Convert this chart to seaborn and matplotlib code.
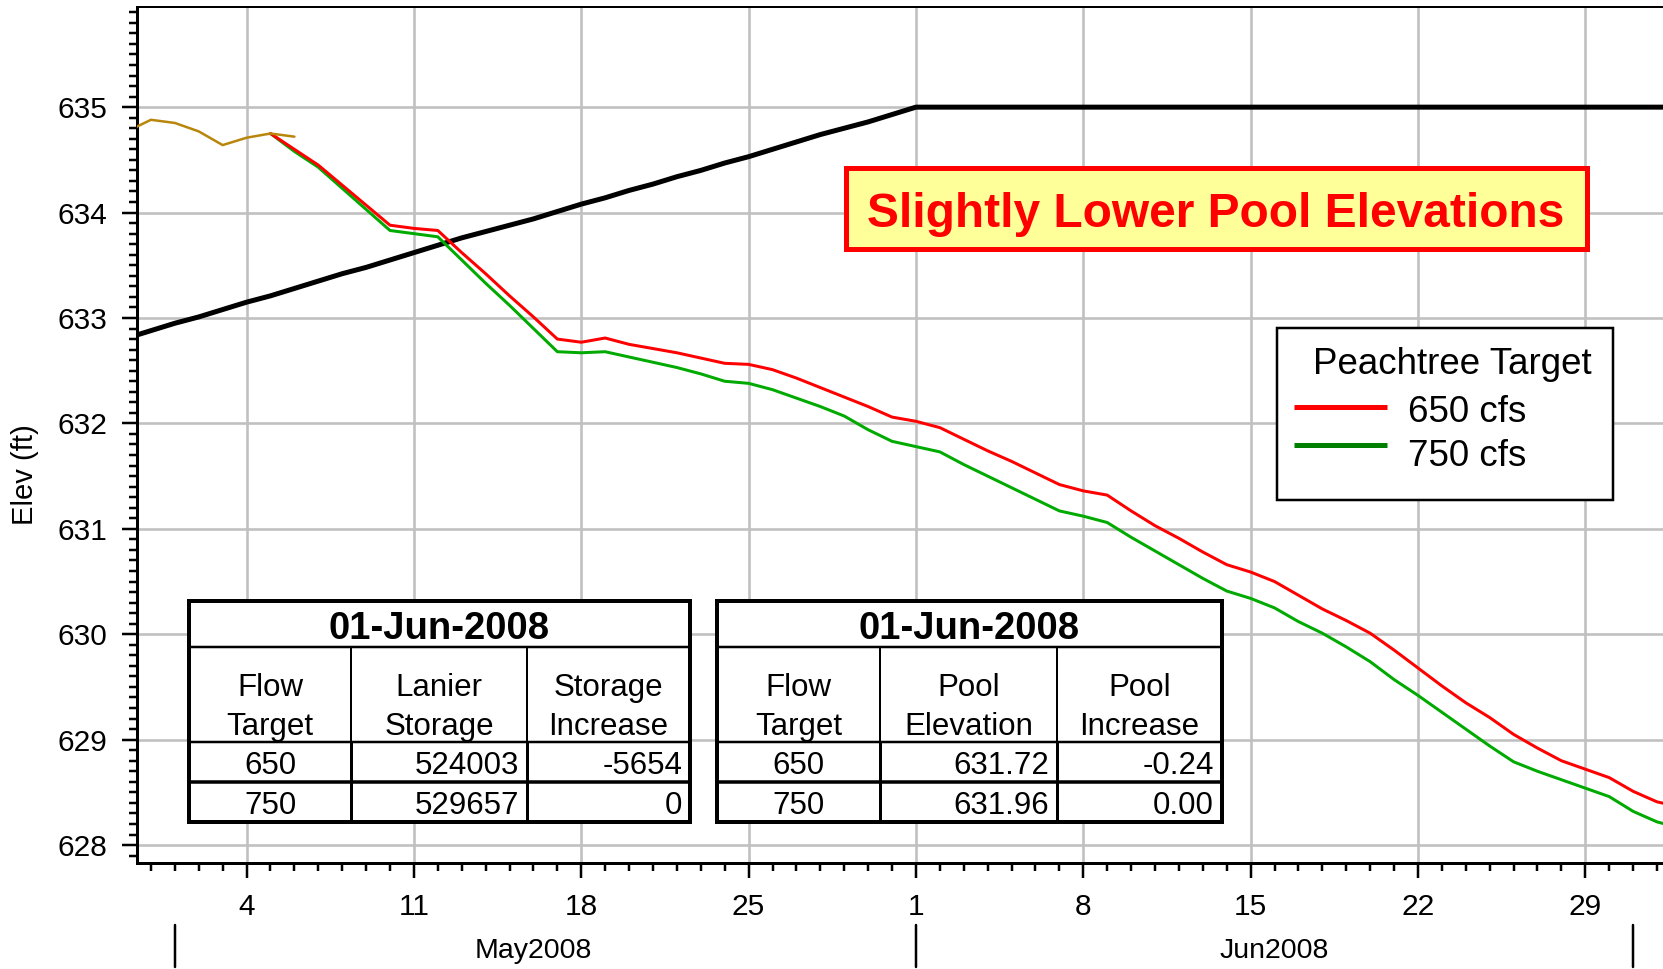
import numpy as np
import pandas as pd
import matplotlib
matplotlib.use('Agg')
import matplotlib.pyplot as plt
import matplotlib.dates as mdates
import matplotlib.transforms as mtransforms
from matplotlib.ticker import MultipleLocator, FuncFormatter
from matplotlib.patches import Rectangle
import seaborn as sns

sns.set_style('white')
plt.rcParams['font.family'] = ['Liberation Sans', 'DejaVu Sans']
plt.rcParams['text.color'] = 'black'
plt.rcParams['axes.labelcolor'] = 'black'
plt.rcParams['xtick.color'] = 'black'
plt.rcParams['ytick.color'] = 'black'

# ---------------------------------------------------------------- data
# guide curve (black), Apr 29 .. Jul 3
guide_dates = pd.date_range('2008-04-29', '2008-07-03', freq='D')
guide_rise = [632.81, 632.88, 632.95, 633.01, 633.08, 633.15, 633.21, 633.28,
              633.35, 633.42, 633.48, 633.55, 633.62, 633.69, 633.76, 633.82,
              633.88, 633.94, 634.01, 634.08, 634.14, 634.21, 634.27, 634.34,
              634.40, 634.47, 634.53, 634.60, 634.67, 634.74, 634.80, 634.86,
              634.93, 635.00]
guide_elev = guide_rise + [635.00] * (len(guide_dates) - len(guide_rise))

# observed pool (gold), Apr 29 .. May 6
obs_dates = pd.date_range('2008-04-29', '2008-05-06', freq='D')
obs_elev = [634.77, 634.88, 634.85, 634.77, 634.64, 634.71, 634.75, 634.72]

# simulated pool for two Peachtree targets, May 5 .. Jul 3
sim_dates = pd.date_range('2008-05-05', '2008-07-03', freq='D')
elev_650 = [634.75, 634.60, 634.45, 634.26, 634.07, 633.88, 633.85, 633.83,
            633.62, 633.42, 633.21, 633.01, 632.80, 632.77, 632.81, 632.75,
            632.71, 632.67, 632.62, 632.57, 632.56, 632.51, 632.43, 632.34,
            632.25, 632.16, 632.06,
            632.02, 631.96, 631.85, 631.74, 631.64, 631.53, 631.42, 631.36,
            631.32, 631.17, 631.03, 630.91, 630.78, 630.66, 630.59, 630.50,
            630.37, 630.24, 630.13, 630.01, 629.85, 629.68, 629.51, 629.35,
            629.21, 629.05, 628.92, 628.80, 628.72, 628.64,
            628.51, 628.41, 628.36]
elev_750 = [634.75, 634.58, 634.43, 634.23, 634.03, 633.83, 633.80, 633.77,
            633.55, 633.33, 633.12, 632.90, 632.68, 632.67, 632.68, 632.63,
            632.58, 632.53, 632.47, 632.40, 632.38, 632.32, 632.24, 632.16,
            632.07, 631.94, 631.83,
            631.78, 631.73, 631.61, 631.50, 631.39, 631.28, 631.17, 631.12,
            631.06, 630.92, 630.79, 630.66, 630.53, 630.41, 630.34, 630.25,
            630.12, 630.01, 629.88, 629.74, 629.57, 629.42, 629.26, 629.10,
            628.94, 628.79, 628.70, 628.62, 628.54, 628.46,
            628.32, 628.22, 628.16]

legend_title = 'Peachtree Target'
legend_labels = ['650 cfs', '750 cfs']
month_labels = ['May2008', 'Jun2008']
month_label_dates = pd.to_datetime(['2008-05-16', '2008-06-16'])
month_starts = pd.to_datetime(['2008-05-01', '2008-06-01', '2008-07-01'])

table_date = '01-Jun-2008'
flow_targets = ['650', '750']
storage_headers = ['Flow\nTarget', 'Lanier\nStorage', 'Storage\nIncrease']
lanier_storage = ['524003', '529657']
storage_increase = ['-5654', '0']
pool_headers = ['Flow\nTarget', 'Pool\nElevation', 'Pool\nIncrease']
pool_elevation = ['631.72', '631.96']
pool_increase = ['-0.24', '0.00']

banner = 'Slightly Lower Pool Elevations'

# ---------------------------------------------------------------- figure
W, H = 1663, 969
PT = 0.72  # points per pixel at dpi 100
fig = plt.figure(figsize=(W / 100, H / 100), dpi=100)
ax = fig.add_axes([137 / W, 1 - 863 / H, (W - 137) / W, 856 / H])

sns.lineplot(x=guide_dates, y=guide_elev, ax=ax, color='black', lw=5 * PT, zorder=3)
sns.lineplot(x=sim_dates, y=elev_750, ax=ax, color='#00AA00', lw=3 * PT, zorder=4)
sns.lineplot(x=sim_dates, y=elev_650, ax=ax, color='#FF0000', lw=3 * PT, zorder=5)
sns.lineplot(x=obs_dates, y=obs_elev, ax=ax, color='#B8860B', lw=2.5 * PT, zorder=6)

ax.set_xlim(pd.Timestamp('2008-04-29 10:00'), pd.Timestamp('2008-07-02 06:00'))
ax.set_ylim(627.83, 635.95)

ax.xaxis.set_major_locator(mdates.WeekdayLocator(byweekday=mdates.SU))
ax.xaxis.set_minor_locator(mdates.DayLocator())
ax.xaxis.set_major_formatter(FuncFormatter(lambda v, p: str(mdates.num2date(v).day)))
ax.yaxis.set_major_locator(MultipleLocator(1))
ax.yaxis.set_minor_locator(MultipleLocator(0.1))

ax.tick_params(which='both', direction='out', width=2.5 * PT, color='black',
               labelcolor='black', labelsize=21.5, pad=10.5, left=True, bottom=True)
ax.tick_params(which='major', length=15 * PT)
ax.tick_params(which='minor', length=8 * PT)

ax.grid(which='major', color='#C0C0C0', lw=2.6 * PT)
ax.set_axisbelow(True)
ax.spines['right'].set_visible(False)
ax.spines['left'].set_linewidth(3 * PT)
ax.spines['bottom'].set_linewidth(3 * PT)
ax.spines['top'].set_linewidth(2 * PT)
for s in ['left', 'bottom', 'top']:
    ax.spines[s].set_color('black')

ax.set_xlabel('')
ax.set_ylabel('Elev (ft)', fontsize=21, color='black')
ax.yaxis.set_label_coords(-0.064, 0.454)

# month band under the day ticks
trans = mtransforms.blended_transform_factory(ax.transData, ax.transAxes)
for d in month_starts:
    ax.axvline(d, ymin=-0.0724, ymax=-0.1215, color='black', lw=2.5 * PT, clip_on=False)
for d, lab in zip(month_label_dates, month_labels):
    ax.text(d, -0.1025, lab, transform=trans, ha='center', va='center', fontsize=20.5)

# ---------------------------------------------------------------- overlay (pixel coords)
ov = fig.add_axes([0, 0, 1, 1], zorder=10)
ov.set_xlim(0, W)
ov.set_ylim(H, 0)
ov.axis('off')

# banner
ov.add_patch(Rectangle((845.5, 167.5), 741, 81, facecolor='#FFFF99',
                       edgecolor='#FF0000', lw=5 * PT))
ov.text(1216, 214, banner, color='#FF0000', fontsize=34.5, fontweight='bold',
        ha='center', va='center')

# legend
ov.add_patch(Rectangle((1277, 328), 336, 172, facecolor='white', edgecolor='black', lw=2.5 * PT))
ov.text(1313, 365, legend_title, fontsize=26.5, ha='left', va='center')
for yy, ty, col, lab in zip([407, 445], [413, 456], ['#FF0000', '#008000'], legend_labels):
    ov.plot([1294, 1387], [yy, yy], color=col, lw=5 * PT, solid_capstyle='butt')
    ov.text(1408, ty, lab, fontsize=26.5, ha='left', va='center')


def draw_table(xs, headers, col2, col3):
    x0, x1, x2, x3 = xs
    yt, y_title, y_head, y_row, yb = 601, 647, 742, 782, 822
    ov.add_patch(Rectangle((x0, yt), x3 - x0, yb - yt, facecolor='white',
                           edgecolor='black', lw=4 * PT))
    ov.plot([x0, x3], [y_title, y_title], color='black', lw=2.5 * PT)
    ov.plot([x0, x3], [y_head, y_head], color='black', lw=2.5 * PT)
    ov.plot([x0, x3], [y_row, y_row], color='black', lw=3.5 * PT)
    for xc in (x1, x2):
        ov.plot([xc, xc], [y_title, y_head], color='black', lw=2 * PT)
        ov.plot([xc, xc], [y_head, yb], color='black', lw=3 * PT)
    ov.text((x0 + x3) / 2, 629, table_date, fontsize=27.5, fontweight='bold',
            ha='center', va='center')
    bounds = [(x0, x1), (x1, x2), (x2, x3)]
    for (a, b), h in zip(bounds, headers):
        l1, l2 = h.split('\n')
        ov.text((a + b) / 2, 688, l1, fontsize=22.5, ha='center', va='center')
        ov.text((a + b) / 2, 727, l2, fontsize=22.5, ha='center', va='center')
    for yy, f, v2, v3 in zip([766, 806], flow_targets, col2, col3):
        ov.text((x0 + x1) / 2, yy, f, fontsize=22.5, ha='center', va='center')
        ov.text(x2 - 8, yy, v2, fontsize=22.5, ha='right', va='center')
        ov.text(x3 - 8, yy, v3, fontsize=22.5, ha='right', va='center')


draw_table((189, 351, 527, 690), storage_headers, lanier_storage, storage_increase)
draw_table((717, 880, 1057, 1222), pool_headers, pool_elevation, pool_increase)

fig.savefig('out.png', dpi=100)
